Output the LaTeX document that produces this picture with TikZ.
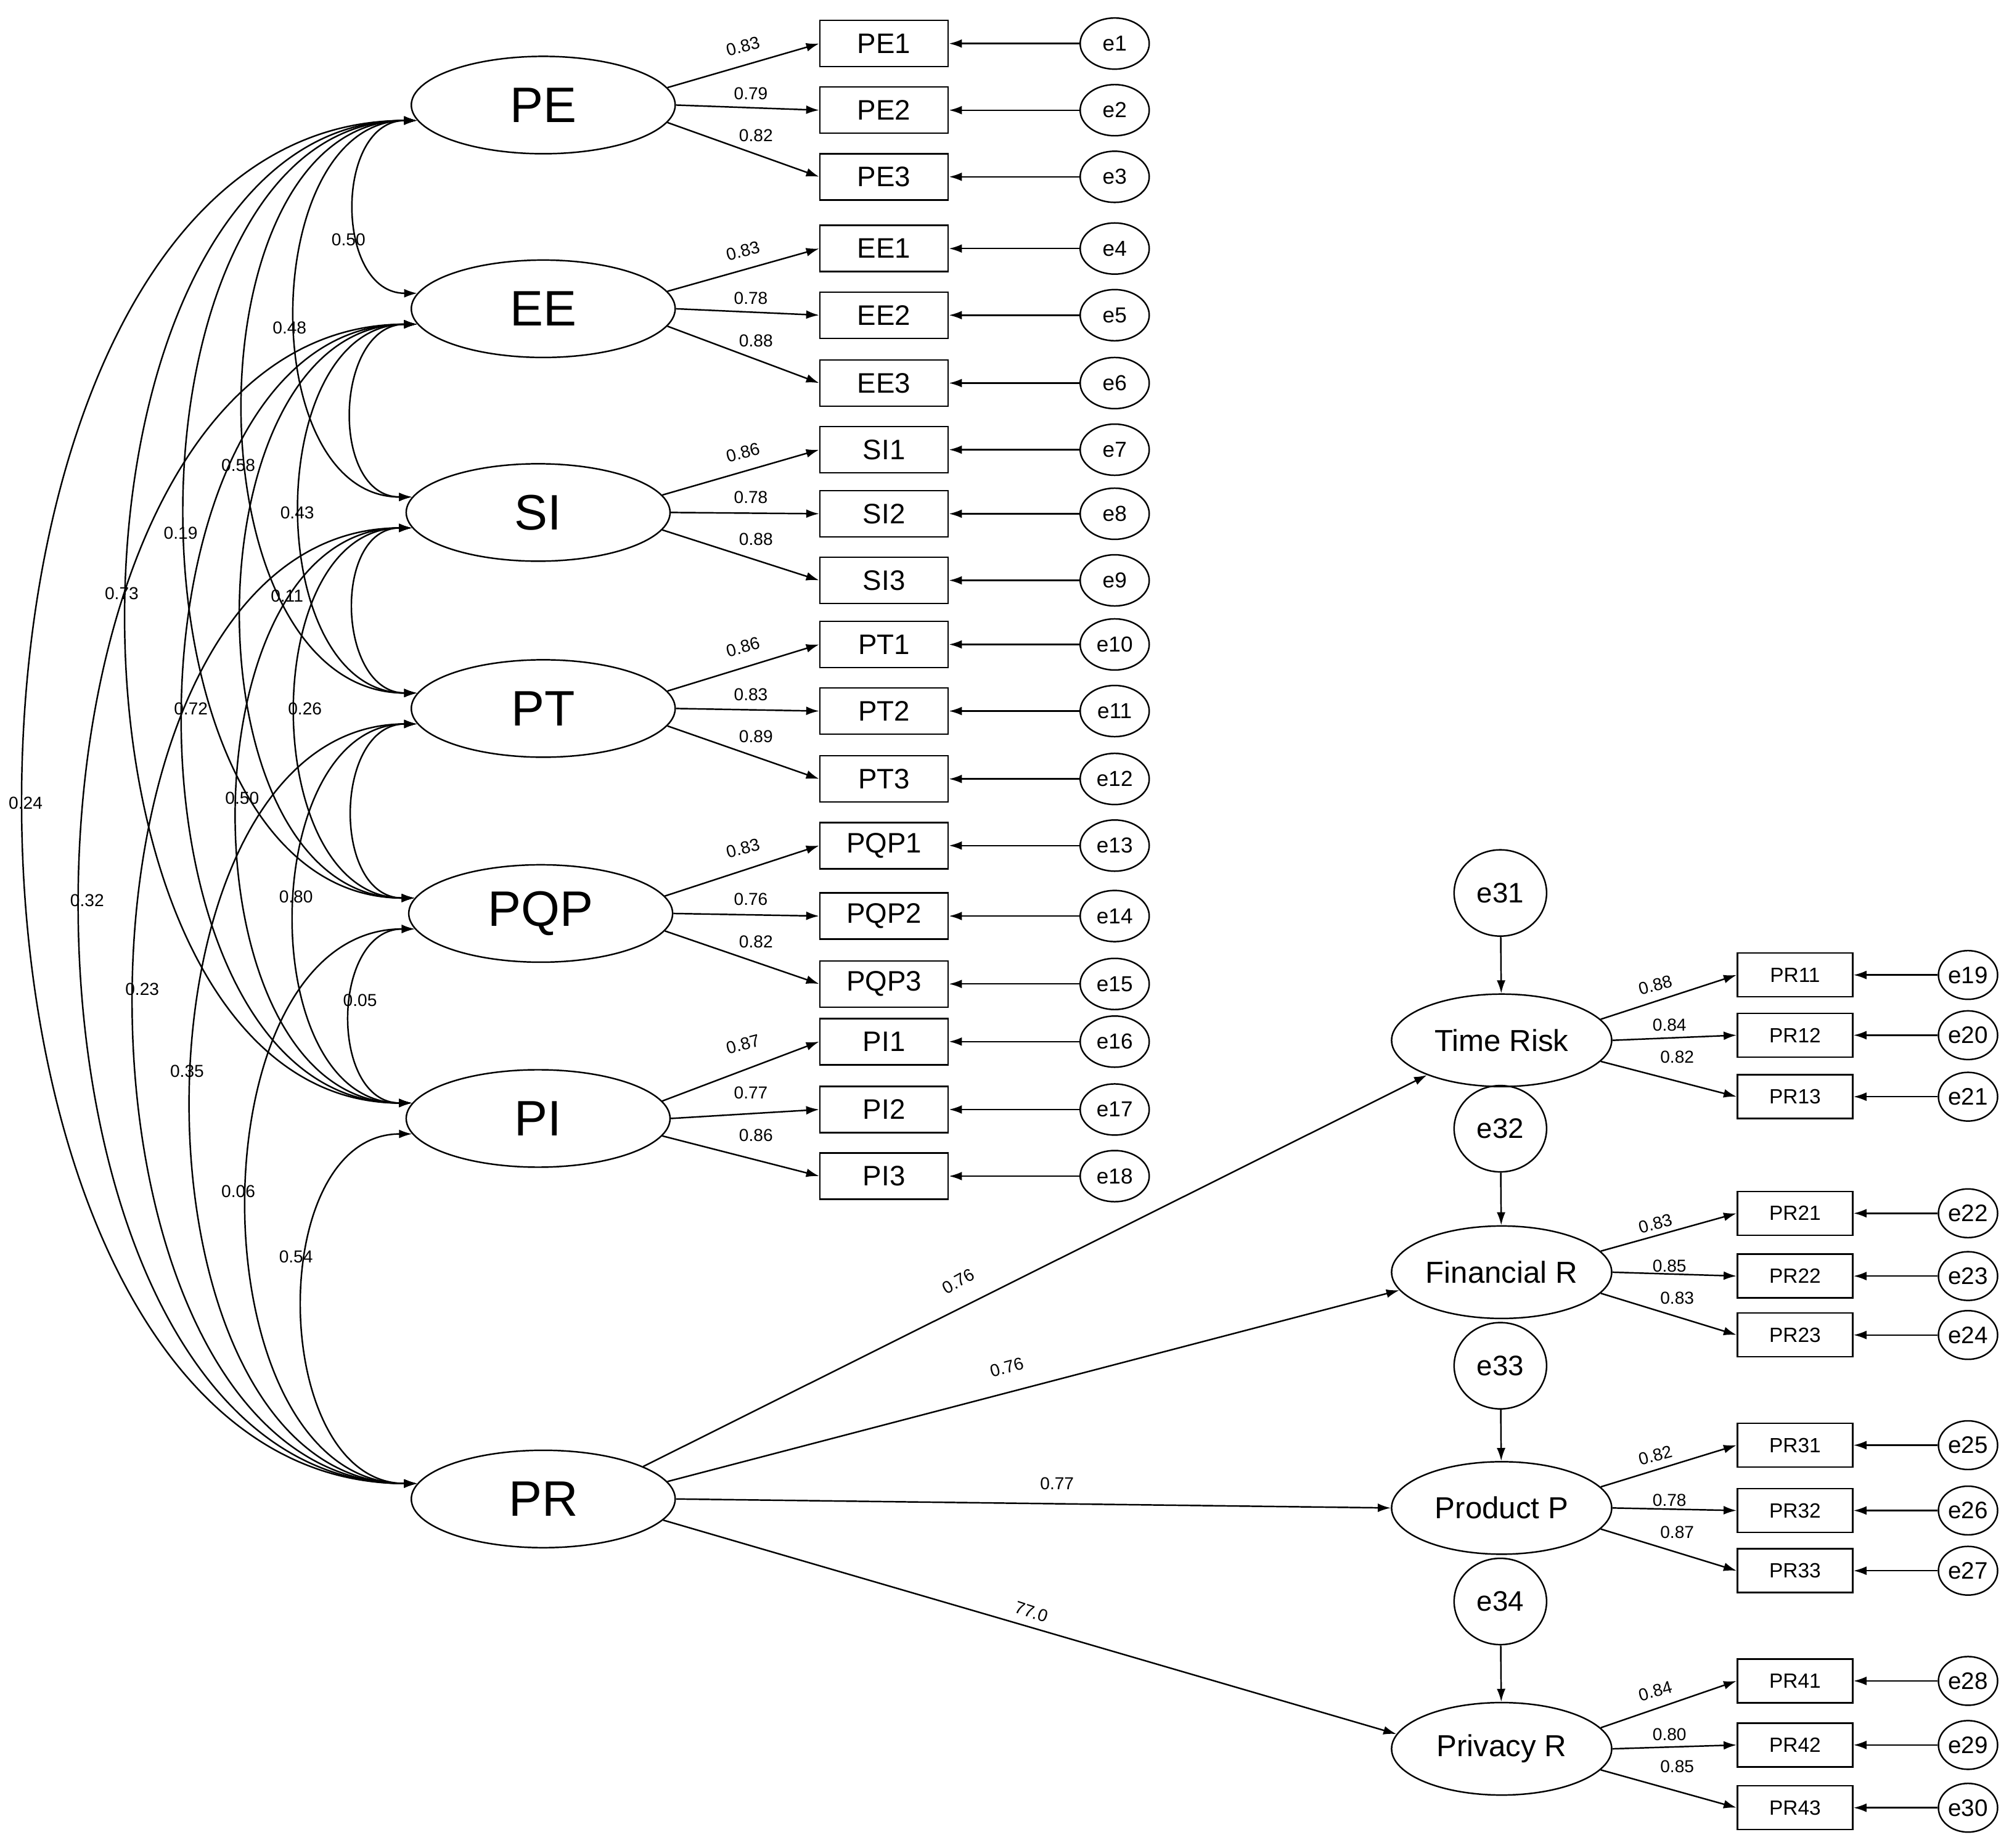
\documentclass[tikz,border=0pt]{standalone}
\usepackage{fontspec}
\setmainfont{Liberation Sans}
\usetikzlibrary{arrows.meta,shapes.geometric}
\begin{document}
\begin{tikzpicture}[x=0.02078cm,y=-0.02078cm,
  every path/.style={line width=0.7pt},
  arr/.style={-{Latex[length=6pt,width=4pt]}},
  corr/.style={{Latex[length=6pt,width=4pt]}-{Latex[length=6pt,width=4pt]}},
  lat/.style={draw,ellipse,minimum width=4.28cm,minimum height=1.58cm,inner sep=0pt,font=\fontsize{23}{24}\selectfont},
  box/.style={draw,rectangle,minimum width=2.08cm,minimum height=0.75cm,inner sep=0pt,font=\fontsize{13}{14}\selectfont},
  err/.style={draw,ellipse,minimum width=1.12cm,minimum height=0.83cm,inner sep=0pt,font=\fontsize{10}{11}\selectfont},
  rlat/.style={draw,ellipse,minimum width=3.57cm,minimum height=1.5cm,inner sep=0pt,font=\fontsize{14}{15}\selectfont},
  rerr/.style={draw,ellipse,minimum width=1.5cm,minimum height=1.4cm,inner sep=0pt,font=\fontsize{13}{14}\selectfont},
  rbox/.style={draw,rectangle,minimum width=1.87cm,minimum height=0.71cm,inner sep=0pt,font=\fontsize{9.5}{10}\selectfont},
  rerr2/.style={draw,ellipse,minimum width=0.96cm,minimum height=0.79cm,inner sep=0pt,font=\fontsize{11}{12}\selectfont},
  lab/.style={font=\fontsize{8}{9}\selectfont,inner sep=1pt}]
\useasboundingbox (0,0) rectangle (1568,1442);

% latent variables
\node[lat] (L1) at (424,82) {PE};
\node[lat] (L2) at (424,241) {EE};
\node[lat] (L3) at (420,400) {SI};
\node[lat] (L4) at (424,553) {PT};
\node[lat] (L5) at (422,713) {PQP};
\node[lat] (L6) at (420,873) {PI};
\node[lat] (L7) at (424,1170) {PR};

% indicator groups
\foreach \g/\n/\ya/\yb/\yc/\ea/\eb/\ec/\la/\lb/\lc in {
  1/PE/34/86/138/1/2/3/0.83/0.79/0.82,
  2/EE/194/246/299/4/5/6/0.83/0.78/0.88,
  3/SI/351/401/453/7/8/9/0.86/0.78/0.88,
  4/PT/503/555/608/10/11/12/0.86/0.83/0.89,
  5/PQP/660/715/768/13/14/15/0.83/0.76/0.82,
  6/PI/813/866/918/16/17/18/0.87/0.77/0.86}{
  \node[box] (B\g a) at (690,\ya) {\n1};
  \node[box] (B\g b) at (690,\yb) {\n2};
  \node[box] (B\g c) at (690,\yc) {\n3};
  \node[err] (E\g a) at (870,\ya) {e\ea};
  \node[err] (E\g b) at (870,\yb) {e\eb};
  \node[err] (E\g c) at (870,\yc) {e\ec};
  \draw[arr] (E\g a) -- (B\g a);
  \draw[arr] (E\g b) -- (B\g b);
  \draw[arr] (E\g c) -- (B\g c);
  \draw[arr] (L\g.8) -- (B\g a.west);
  \draw[arr] (L\g.east) -- (B\g b.west);
  \draw[arr] (L\g.-8) -- (B\g c.west);
  \node[lab,rotate=15] at (580,\ya+2) {\la};
  \node[lab] at (586,\yb-13) {\lb};
  \node[lab] at (590,\yb+20) {\lc};
}

% correlations
\def\ys{{82,241,400,553,713,873,1170}}
\foreach \i in {1,...,6}{
  \foreach \j in {\i,...,7}{
    \ifnum\j>\i
      \pgfmathsetmacro\d{0.37*(\ys[\j-1]-\ys[\i-1])+6}
      \draw[corr] (L\i.187) .. controls +(-\d,0) and +(-\d,0) .. (L\j.173);
    \fi
  }
}
\foreach \p/\t in {{(272,187)}/0.50,{(226,256)}/0.48,{(186,363)}/0.58,{(232,400)}/0.43,
  {(141,416)}/0.19,{(224,465)}/0.11,{(95,463)}/0.73,{(149,553)}/0.72,{(238,553)}/0.26,
  {(20,627)}/0.24,{(189,623)}/0.50,{(68,703)}/0.32,{(231,700)}/0.80,{(281,781)}/0.05,
  {(111,772)}/0.23,{(146,836)}/0.35,{(186,930)}/0.06,{(231,981)}/0.54}{
  \node[lab] at \p {\t};
}

% second-order part
\node[rlat] (T1) at (1172,812) {Time Risk};
\node[rlat] (T2) at (1172,993) {Financial R};
\node[rlat] (T3) at (1172,1177) {Product P};
\node[rlat] (T4) at (1172,1365) {Privacy R};
\node[rerr] (D1) at (1171,697) {e31};
\node[rerr] (D2) at (1171,881) {e32};
\node[rerr] (D3) at (1171,1066) {e33};
\node[rerr] (D4) at (1171,1250) {e34};
\foreach \k in {1,...,4}{\draw[arr] (D\k) -- (T\k);}

\draw[arr] (L7.18) -- (T1.205);
\draw[arr] (L7.8) -- (T2.190);
\draw[arr] (L7.east) -- (T3.west);
\draw[arr] (L7.-10) -- (T4.172);
\node[lab,rotate=29] at (748,1000) {0.76};
\node[lab,rotate=15] at (786,1067) {0.76};
\node[lab] at (825,1158) {0.77};
\node[lab,rotate=-18] at (805,1258) {77.0};

\foreach \g/\ya/\yb/\yc/\ea/\eb/\ec/\la/\lb/\lc in {
  1/761/808/856/19/20/21/0.88/0.84/0.82,
  2/947/996/1042/22/23/24/0.83/0.85/0.83,
  3/1128/1179/1226/25/26/27/0.82/0.78/0.87,
  4/1312/1362/1411/28/29/30/0.84/0.80/0.85}{
  \node[rbox] (R\g a) at (1401,\ya) {PR\g1};
  \node[rbox] (R\g b) at (1401,\yb) {PR\g2};
  \node[rbox] (R\g c) at (1401,\yc) {PR\g3};
  \node[rerr2] (F\g a) at (1536,\ya) {e\ea};
  \node[rerr2] (F\g b) at (1536,\yb) {e\eb};
  \node[rerr2] (F\g c) at (1536,\yc) {e\ec};
  \draw[arr] (F\g a) -- (R\g a);
  \draw[arr] (F\g b) -- (R\g b);
  \draw[arr] (F\g c) -- (R\g c);
  \draw[arr] (T\g.12) -- (R\g a.west);
  \draw[arr] (T\g.east) -- (R\g b.west);
  \draw[arr] (T\g.-12) -- (R\g c.west);
  \node[lab,rotate=15] at (1292,\ya+8) {\la};
  \node[lab] at (1303,\yb-8) {\lb};
  \node[lab] at (1309,\yb+17) {\lc};
}
\end{tikzpicture}
\end{document}
